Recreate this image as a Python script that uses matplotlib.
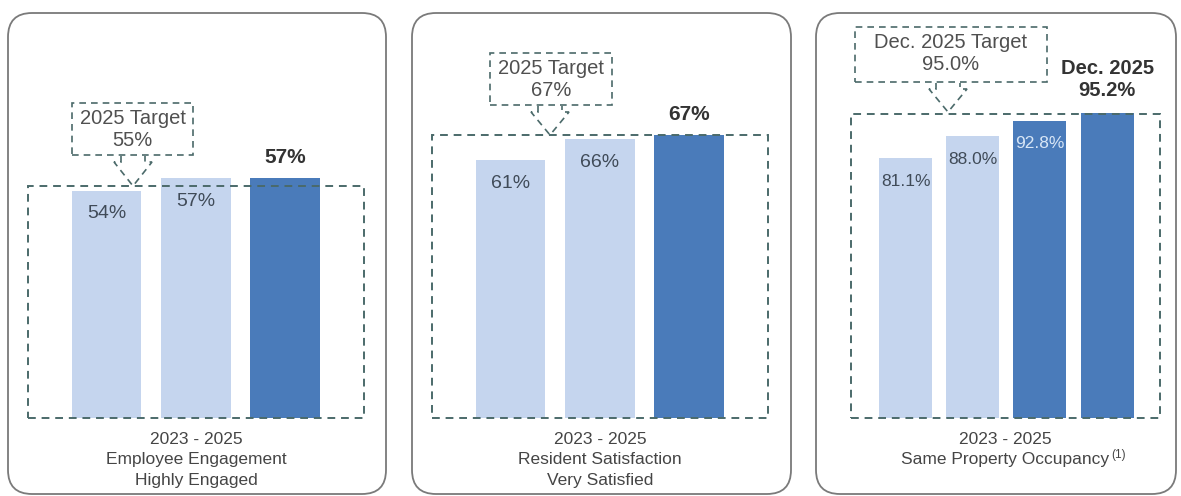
import matplotlib
matplotlib.use('Agg')
import matplotlib.pyplot as plt
from matplotlib.patches import FancyBboxPatch, Rectangle, Polygon

plt.rcParams['font.family'] = ['Liberation Sans', 'DejaVu Sans']

# ---- data ----
emp_values = [54, 57, 57]
emp_target = 55
res_values = [61, 66, 67]
res_target = 67
occ_values = [81.1, 88.0, 92.8, 95.2]
occ_target = 95.0

emp_labels = ['54%', '57%', '57%']
res_labels = ['61%', '66%', '67%']
occ_labels = ['81.1%', '88.0%', '92.8%', '95.2%']

emp_callout = ['2025 Target', '55%']
res_callout = ['2025 Target', '67%']
occ_callout = ['Dec. 2025 Target', '95.0%']

emp_caption = ['2023 - 2025', 'Employee Engagement', 'Highly Engaged']
res_caption = ['2023 - 2025', 'Resident Satisfaction', 'Very Satisfied']
occ_caption = ['2023 - 2025', 'Same Property Occupancy']

LIGHT = '#c5d5ee'
DARK = '#4a7bba'
DASH = '#4b6a6a'
TXT = '#404b58'
GREY = '#505050'

W, H = 1181, 496
fig = plt.figure(figsize=(W / 100, H / 100), dpi=100)


def fx(x):
    return x / W


def fy(y):
    return 1 - y / H


def panel_frame(x0, x1, y0=13, y1=494):
    r = 24
    p = FancyBboxPatch((fx(x0 + r), fy(y1 - r)), fx(x1 - x0 - 2 * r), (y1 - y0 - 2 * r) / H,
                       boxstyle='round,pad=%f' % (r / W), transform=fig.transFigure,
                       fc='none', ec='#7a7a7a', lw=1.3, mutation_aspect=W / H)
    fig.patches.append(p)


def callout(box, tip, lines):
    bx0, bx1, by0, by1 = box
    tx, ty = tip
    rect = Rectangle((fx(bx0), fy(by1)), fx(bx1 - bx0), (by1 - by0) / H,
                     transform=fig.transFigure, fill=False, ec=DASH, lw=1.2, ls=(0, (4, 3)))
    fig.patches.append(rect)
    sy = by1 + 7
    pts = [(tx - 12, by1 + 1), (tx - 12, sy), (tx - 19, sy), (tx, ty),
           (tx + 19, sy), (tx + 12, sy), (tx + 12, by1 + 1)]
    arrow = Polygon([(fx(a), fy(b)) for a, b in pts], closed=False,
                    transform=fig.transFigure, fill=False, ec=DASH, lw=1.2, ls=(0, (4, 3)))
    fig.patches.append(arrow)
    cx = (bx0 + bx1) / 2
    fig.text(fx(cx), fy(by0 + 15), lines[0], ha='center', va='center', fontsize=14.5, color=GREY)
    fig.text(fx(cx), fy(by0 + 37), lines[1], ha='center', va='center', fontsize=14.5, color=GREY)


def bar_panel(box_x, ppu, values, labels, colors, target, first_off, spacing, width, inner_fs):
    x0, x1 = box_x
    ax = fig.add_axes([fx(x0), fy(418), fx(x1 - x0), (418 - 12) / H])
    ax.set_ylim(0, (418 - 12) / ppu)
    n = len(values)
    left = -first_off / spacing
    right = left + (x1 - x0) / spacing
    ax.set_xlim(left, right)
    xs = list(range(n))
    ax.bar(xs, values, width=width, color=colors, zorder=2)
    ax.add_patch(Rectangle((left + 0.003, 0), right - left - 0.006, target, fill=False,
                           ec=DASH, lw=1.4, ls=(0, (4, 3)), zorder=3, clip_on=False))
    for i in range(n - 1):
        c = '#d8e6f6' if colors[i] == DARK else TXT
        ax.annotate(labels[i], (xs[i], values[i]), xytext=(0, -23), textcoords='offset pixels',
                    ha='center', va='center', fontsize=inner_fs, color=c, zorder=4)
    ax.axis('off')
    return ax


# panel frames
panel_frame(8, 386)
panel_frame(412, 791)
panel_frame(816, 1176)

# employee engagement
ax1 = bar_panel((28, 364), 240 / 57, emp_values, emp_labels, [LIGHT, LIGHT, DARK],
                emp_target, 78.5, 89.3, 0.78, 14)
ax1.annotate(emp_labels[-1], (2, emp_values[-1]), xytext=(0, 21), textcoords='offset pixels',
             ha='center', va='center', fontsize=15, fontweight='bold', color='#333333')
callout((72, 193, 103, 155), (133, 186), emp_callout)

# resident satisfaction
ax2 = bar_panel((432, 768), 283 / 67, res_values, res_labels, [LIGHT, LIGHT, DARK],
                res_target, 78.5, 89.3, 0.78, 14)
ax2.annotate(res_labels[-1], (2, res_values[-1]), xytext=(0, 20), textcoords='offset pixels',
             ha='center', va='center', fontsize=15, fontweight='bold', color='#333333')
callout((490, 612, 53, 105), (550, 135), res_callout)

# occupancy
ax3 = bar_panel((851, 1160), 305 / 95.2, occ_values, occ_labels, [LIGHT, LIGHT, DARK, DARK],
                occ_target, 54.5, 67.2, 0.79, 12.5)
ax3.annotate('Dec. 2025\n' + occ_labels[-1], (3, occ_values[-1]), xytext=(0, 34),
             textcoords='offset pixels', ha='center', va='center', fontsize=14.5,
             fontweight='bold', color='#333333', linespacing=1.2)
callout((855, 1047, 27, 82), (948, 112), occ_callout)

# captions
for cx, cap in [(196, emp_caption), (600, res_caption), (1005, occ_caption)]:
    for k, line in enumerate(cap):
        fig.text(fx(cx), fy(439 + 20.5 * k), line, ha='center', va='center',
                 fontsize=12.5, color='#454545')
fig.text(fx(1111), fy(455), '(1)', ha='left', va='center', fontsize=8.5, color='#454545')

fig.savefig('out.png', dpi=100)
